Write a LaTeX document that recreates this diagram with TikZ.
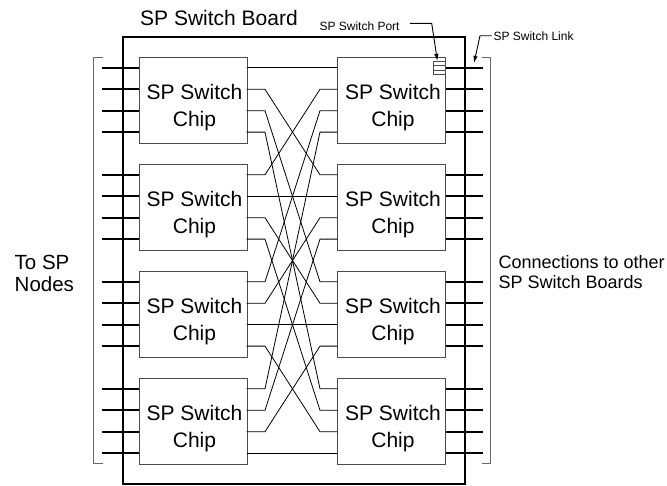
\documentclass[tikz,border=0pt]{standalone}
\usepackage{fontspec}
\setmainfont{Liberation Sans}
\usetikzlibrary{arrows.meta,calc}
\begin{document}
\begin{tikzpicture}[x=1pt,y=-1pt,
  chipbox/.style={draw=black!70,line width=1pt,minimum width=107.4pt,minimum height=85.5pt,inner sep=0pt,anchor=north west},
  chiptext/.style={align=center,font=\fontsize{21}{27.7}\selectfont,inner sep=0pt,anchor=north},
  boardbox/.style={draw,line width=2pt,minimum width=342.3pt,minimum height=447.3pt,inner sep=0pt,anchor=north west},
  stub/.style={line width=1.8pt},
  wire/.style={line width=0.8pt},
  bracket/.style={draw=black!60,line width=1pt},
  leader/.style={line width=0.9pt,-{Latex[length=7pt,width=4.5pt]}},
  smalltext/.style={font=\fontsize{12}{14}\selectfont,inner sep=0pt,anchor=base west},
  portbox/.style={draw=black!70,line width=0.8pt,minimum width=12.2pt,minimum height=13pt,inner sep=0pt,anchor=north east}
]
\useasboundingbox (0,0) rectangle (667,485);

% board
\node[boardbox] (board) at (121.7,35.7) {};
\node[font=\fontsize{21}{25}\selectfont,inner sep=0pt,anchor=base west] (boardlabel) at (140,25) {SP Switch Board};

% chips and port coordinates
\foreach \i/\yy in {1/57.3,2/164.3,3/271.3,4/378.3}{
  \node[chipbox] (L\i) at (139.3,\yy) {};
  \node[chipbox] (R\i) at (337.3,\yy) {};
  \node[chiptext] (L\i txt) at (194.5,\yy+26.4) {SP Switch\\Chip};
  \node[chiptext] (R\i txt) at (393,\yy+26.4) {SP Switch\\Chip};
  \foreach \j/\o in {1/10.5,2/32,3/53.4,4/74.8}{
    \coordinate (L\i w\j) at (139.3,\yy+\o);
    \coordinate (L\i e\j) at (246.7,\yy+\o);
    \coordinate (L\i o\j) at (101.7,\yy+\o);
    \coordinate (R\i w\j) at (337.3,\yy+\o);
    \coordinate (R\i e\j) at (445.7,\yy+\o);
    \coordinate (R\i o\j) at (482.7,\yy+\o);
  }
}

% outer stubs
\foreach \i in {1,...,4}{
  \foreach \j in {1,...,4}{
    \draw[stub] (L\i o\j) -- (L\i w\j);
    \draw[stub] (R\i e\j) -- (R\i o\j);
  }
}

% interconnect: left chip i port j -> right chip j port i
\foreach \i in {1,...,4}{
  \foreach \j in {1,...,4}{
    \draw[wire] (L\i e\j) -- ++(18.3,0) -- ($(R\j w\i)+(-17.3,0)$) -- (R\j w\i);
  }
}

% brackets
\draw[bracket] (102.7,57.3) -- (93.3,57.3) -- (93.3,463.3) -- (102.7,463.3);
\draw[bracket] (481.7,57.3) -- (490,57.3) -- (490,463.3) -- (481.7,463.3);

% port box
\node[portbox] (port) at ($(R1.north east)+(0,3.5)$) {};
\draw[draw=black!70,line width=0.6pt] ($(port.west)+(0,-2.2)$) -- ($(port.east)+(0,-2.2)$);
\draw[draw=black!70,line width=0.6pt] ($(port.west)+(0,2.2)$) -- ($(port.east)+(0,2.2)$);

% labels and leaders
\node[smalltext] (portlabel) at (319.3,30) {SP Switch Port};
\coordinate (pl1) at (410,23.3);
\coordinate (pl2) at (431.7,23.3);
\draw[leader] (pl1) -- (pl2) -- ($(port.north)+(-1.8,0)$);

\node[smalltext] (linklabel) at (493.3,40.7) {SP Switch Link};
\coordinate (ll1) at (491.7,35.7);
\coordinate (ll2) at (480,35.7);
\coordinate (linktip) at (474,63);
\draw[leader] (ll1) -- (ll2) -- (linktip);

\node[align=left,font=\fontsize{20.5}{22}\selectfont,inner sep=0pt,anchor=north west] (tosp) at (14.5,255) {To SP\\Nodes};
\node[align=left,font=\fontsize{18}{20.5}\selectfont,inner sep=0pt,anchor=north west] (conn) at (498.3,255) {Connections to other\\SP Switch Boards};
\end{tikzpicture}
\end{document}
